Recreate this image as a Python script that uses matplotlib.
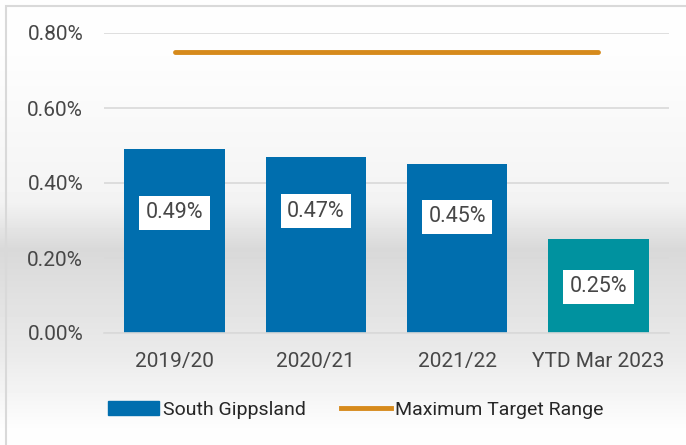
import numpy as np
import matplotlib.pyplot as plt
from matplotlib.patches import Patch, Rectangle
from matplotlib.lines import Line2D

categories = ['2019/20', '2020/21', '2021/22', 'YTD Mar 2023']
values = [0.49, 0.47, 0.45, 0.25]
target = [0.75, 0.75, 0.75, 0.75]
value_labels = ['0.49%', '0.47%', '0.45%', '0.25%']

bar_colors = ['#006eae', '#006eae', '#006eae', '#00929f']
label_y = [0.32, 0.325, 0.31, 0.123]

fig = plt.figure(figsize=(6.86, 4.45), dpi=100)

# grey vertical gradient behind everything
bg = fig.add_axes([0, 0, 1, 1], zorder=-10)
yy = np.linspace(0, 1, 445)
shade = np.interp(yy, [0, 0.1, 0.45, 0.56, 0.8, 0.97, 1.0],
                  [0.995, 0.995, 0.955, 0.85, 0.92, 0.995, 0.995])
bg.imshow(shade[::-1, None], cmap='gray', vmin=0, vmax=1, aspect='auto',
          extent=[0, 1, 0, 1], origin='lower')
bg.add_patch(Rectangle((6 / 686, -0.1), 1.2, 1.087,
                       transform=bg.transAxes, fill=False, ec='#d9d9d9', lw=1.5))
bg.set_axis_off()

ax = fig.add_axes([104 / 686, (445 - 333) / 445, 565 / 686, 300 / 445])
ax.patch.set_alpha(0)
x = np.arange(len(categories))

ax.bar(x, values, width=0.71, color=bar_colors, zorder=2)
ax.plot(x, target, color='#d68a1c', lw=3.5, solid_capstyle='round', zorder=3)

for xi, ly, txt in zip(x, label_y, value_labels):
    ax.text(xi, ly, txt, ha='center', va='center', fontsize=15.5, family='Roboto',
            color='#474747', zorder=4,
            bbox=dict(boxstyle='square,pad=0.3', fc='white', ec='none'))

ax.set_xlim(-0.5, 3.5)
ax.set_ylim(0, 0.8)
ax.set_yticks([0, 0.2, 0.4, 0.6, 0.8])
ax.set_yticklabels(['0.00%', '0.20%', '0.40%', '0.60%', '0.80%'])
ax.set_xticks(x)
ax.set_xticklabels(categories)
ax.grid(axis='y', color='#d9d9d9', lw=1.2, zorder=0)
ax.set_axisbelow(True)
for s in ['top', 'right', 'left']:
    ax.spines[s].set_visible(False)
ax.spines['bottom'].set_color('#d9d9d9')
ax.spines['bottom'].set_linewidth(1.2)
ax.tick_params(length=0, labelsize=15, labelcolor='#474747')
ax.tick_params(axis='y', pad=15)
ax.tick_params(axis='x', pad=14)
for lab in ax.get_xticklabels() + ax.get_yticklabels():
    lab.set_family('Roboto')

handles = [Patch(color='#006eae', label='South Gippsland'),
           Line2D([], [], color='#d68a1c', lw=3.5, label='Maximum Target Range')]
fig.legend(handles=handles, loc='center', bbox_to_anchor=(356 / 686, 1 - 410 / 445),
           ncol=2, frameon=False, handlelength=2.6, handletextpad=0.2,
           columnspacing=1.8, prop={'family': 'Roboto', 'size': 14},
           labelcolor='#262626')

fig.savefig('out.png', dpi=100)
